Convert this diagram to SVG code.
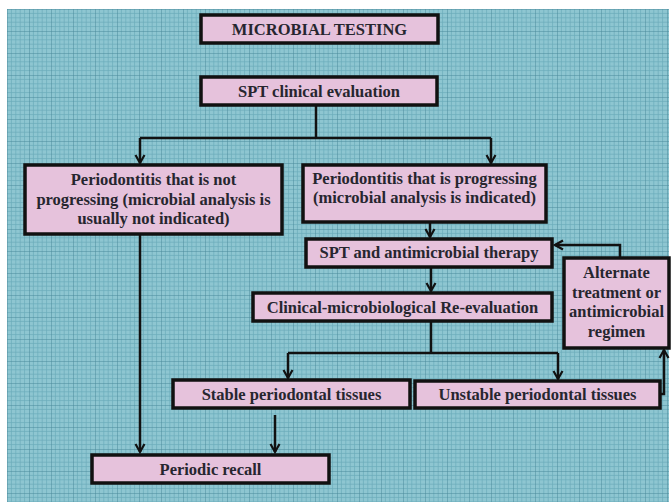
<svg xmlns="http://www.w3.org/2000/svg" width="671" height="502" viewBox="0 0 671 502">
  <defs>
    <!-- graph-paper background: fine lines every 4.4px, heavier every 22px -->
    <pattern id="grid" x="7" y="9" width="22" height="22" patternUnits="userSpaceOnUse">
      <rect width="22" height="22" fill="#8ec6d1"/>
      <path d="M4.4 0V22M8.8 0V22M13.2 0V22M17.6 0V22M0 4.4H22M0 8.8H22M0 13.2H22M0 17.6H22" stroke="#6aaab9" stroke-width="0.7" fill="none"/>
      <path d="M0 0V22M0 0H22" stroke="#4a8a9b" stroke-width="1" fill="none"/>
    </pattern>
    <!-- open chevron arrowhead -->
    <marker id="arrow" viewBox="0 0 12 12" refX="10" refY="6" markerWidth="12" markerHeight="12" orient="auto" markerUnits="userSpaceOnUse">
      <path d="M2 1.5L10 6L2 10.5" fill="none" stroke="#111" stroke-width="2.2"/>
    </marker>
  </defs>
  <style>
    .box { fill: #e6c2dc; stroke: #111; stroke-width: 3.5; }
    .lbl { font-family: "Liberation Serif", "Times New Roman", serif; font-weight: bold; font-size: 16.5px; fill: #26262f; text-anchor: middle; }
    .link { fill: none; stroke: #111; stroke-width: 2.5; }
  </style>

  <rect width="671" height="502" fill="#ffffff"/>
  <rect x="7" y="9" width="662" height="493" fill="url(#grid)"/>

  <g id="connectors">
    <path class="link" d="M316 105V138"/>
    <path class="link" d="M140 138H491"/>
    <path class="link" d="M140 138V163" marker-end="url(#arrow)"/>
    <path class="link" d="M491 138V163" marker-end="url(#arrow)"/>
    <path class="link" d="M140 234V452" marker-end="url(#arrow)"/>
    <path class="link" d="M430 222V237" marker-end="url(#arrow)"/>
    <path class="link" d="M431 267V291" marker-end="url(#arrow)"/>
    <path class="link" d="M431 321V353"/>
    <path class="link" d="M288 353H558"/>
    <path class="link" d="M288 353V378" marker-end="url(#arrow)"/>
    <path class="link" d="M558 353V379" marker-end="url(#arrow)"/>
    <path class="link" d="M275 415V452" marker-end="url(#arrow)"/>
    <path class="link" d="M620 258V245H555" marker-end="url(#arrow)"/>
    <path class="link" d="M660 394H664V350" marker-end="url(#arrow)"/>
  </g>

  <g id="microbial-testing">
    <rect class="box" x="201" y="15" width="237" height="28"/>
    <text class="lbl" x="319.5" y="35">MICROBIAL TESTING</text>
  </g>
  <g id="spt-clinical-evaluation">
    <rect class="box" x="201" y="77" width="236" height="28"/>
    <text class="lbl" x="319" y="97">SPT clinical evaluation</text>
  </g>
  <g id="not-progressing">
    <rect class="box" x="25" y="165" width="257" height="69"/>
    <text class="lbl" x="153.5" y="185">Periodontitis that is not</text>
    <text class="lbl" x="153.5" y="205">progressing (microbial analysis is</text>
    <text class="lbl" x="153.5" y="224">usually not indicated)</text>
  </g>
  <g id="progressing">
    <rect class="box" x="303" y="165" width="243" height="57"/>
    <text class="lbl" x="424.5" y="184">Periodontitis that is progressing</text>
    <text class="lbl" x="424.5" y="203">(microbial analysis is indicated)</text>
  </g>
  <g id="spt-antimicrobial">
    <rect class="box" x="306" y="239" width="246" height="28"/>
    <text class="lbl" x="429" y="258">SPT and antimicrobial therapy</text>
  </g>
  <g id="re-evaluation">
    <rect class="box" x="253" y="293" width="299" height="28"/>
    <text class="lbl" x="402.5" y="313">Clinical-microbiological Re-evaluation</text>
  </g>
  <g id="alternate-treatment">
    <rect class="box" x="564" y="258" width="105" height="90"/>
    <text class="lbl" x="616.5" y="278">Alternate</text>
    <text class="lbl" x="616.5" y="298">treatment or</text>
    <text class="lbl" x="616.5" y="317">antimicrobial</text>
    <text class="lbl" x="616.5" y="337">regimen</text>
  </g>
  <g id="stable">
    <rect class="box" x="173" y="380" width="237" height="28"/>
    <text class="lbl" x="291.5" y="400">Stable periodontal tissues</text>
  </g>
  <g id="unstable">
    <rect class="box" x="415" y="381" width="245" height="27"/>
    <text class="lbl" x="537.5" y="400">Unstable periodontal tissues</text>
  </g>
  <g id="periodic-recall">
    <rect class="box" x="92" y="455" width="237" height="28"/>
    <text class="lbl" x="210.5" y="475">Periodic recall</text>
  </g>
</svg>
